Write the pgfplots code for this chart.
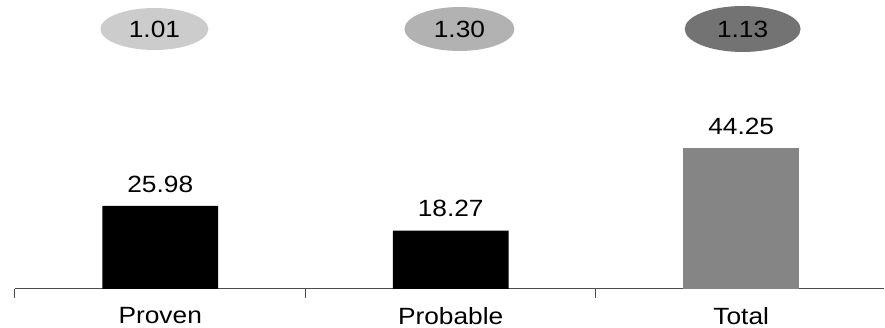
\documentclass[border=0pt]{standalone}
\usepackage{pgfplots}
\pgfplotsset{compat=1.18}
\usepackage{fontspec}
\setmainfont{Liberation Sans}[FakeStretch=1.12]
\usetikzlibrary{shapes.geometric}
\begin{document}
\begin{tikzpicture}
\begin{axis}[
  scale only axis, width=870bp, height=289bp,
  xmin=-0.5, xmax=2.493, ymin=0, ymax=90.6,
  axis y line=none, axis x line*=bottom,
  x axis line style={black!70, line width=1.2bp},
  xtick={0,1,2}, xticklabels={Proven,Probable,Total},
  major tick length=0pt, tick align=outside,
  extra x ticks={-0.5,0.5,1.5},
  extra x tick labels={},
  extra x tick style={major tick length=9bp, tick style={black!70, line width=1bp}},
  xticklabel style={font=\fontsize{23.5bp}{27bp}\selectfont, yshift=-15bp},
  ytick=\empty,
  ybar, bar width=116bp,
  clip=false,
]
\addplot[fill=black, draw=none, bar shift=0pt,
  nodes near coords, point meta=explicit symbolic,
  every node near coord/.append style={font=\fontsize{23.5bp}{27bp}\selectfont, yshift=10bp}]
  coordinates {(0,25.98)[25.98] (1,18.27)[18.27]};
\addplot[fill=black!48, draw=none, bar shift=0pt,
  nodes near coords, point meta=explicit symbolic,
  every node near coord/.append style={font=\fontsize{23.5bp}{27bp}\selectfont, yshift=10bp}]
  coordinates {(2,44.25)[44.25]};
% ratio labels
\addplot[draw=none, fill=none, bar shift=0pt,
  nodes near coords, point meta=explicit symbolic,
  every node near coord/.append style={anchor=center, ellipse, fill=black!20, inner sep=0pt,
    minimum width=108bp, minimum height=42bp, font=\fontsize{23.5bp}{27bp}\selectfont}]
  coordinates {(-0.02,81.5)[1.01]};
\addplot[draw=none, fill=none, bar shift=0pt,
  nodes near coords, point meta=explicit symbolic,
  every node near coord/.append style={anchor=center, ellipse, fill=black!30, inner sep=0pt,
    minimum width=110bp, minimum height=44bp, font=\fontsize{23.5bp}{27bp}\selectfont}]
  coordinates {(1.03,81.5)[1.30]};
\addplot[draw=none, fill=none, bar shift=0pt,
  nodes near coords, point meta=explicit symbolic,
  every node near coord/.append style={anchor=center, ellipse, fill=black!55, inner sep=0pt,
    minimum width=116bp, minimum height=46bp, font=\fontsize{23.5bp}{27bp}\selectfont}]
  coordinates {(2.005,81.5)[1.13]};
\end{axis}
\path ([xshift=-15bp]current axis.south west) rectangle (current axis.north east);
\end{tikzpicture}
\end{document}
